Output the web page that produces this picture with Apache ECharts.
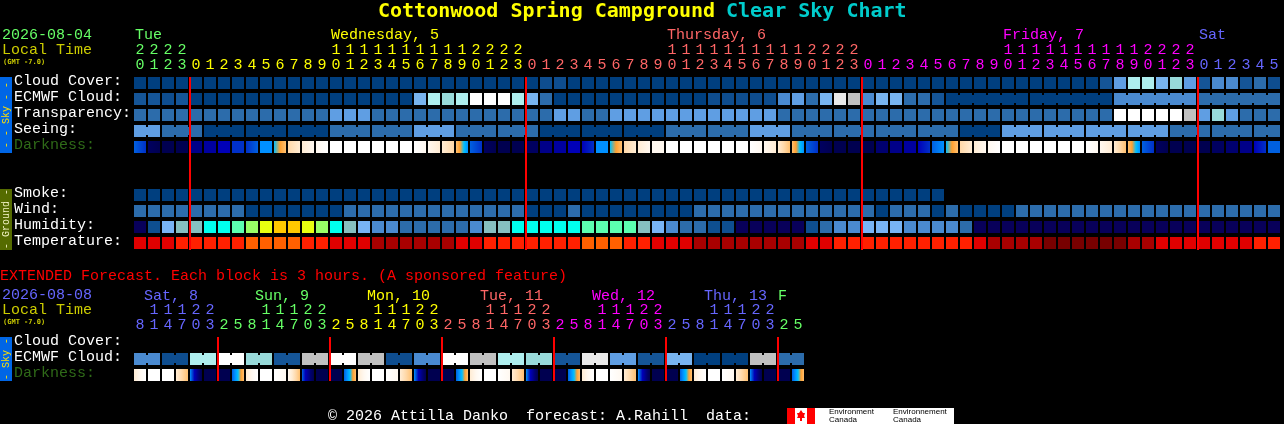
<!DOCTYPE html>
<html><head><meta charset="utf-8">
<style>html,body{margin:0;padding:0;background:#000}#c{width:1284px;height:424px}</style>
<script src="https://cdn.jsdelivr.net/npm/echarts@6/dist/echarts.min.js"></script>
</head><body><div id="c"></div>
<script>
// ---------- data (levels) ----------
const hourOnes = [0,1,2,3,0,1,2,3,4,5,6,7,8,9,0,1,2,3,4,5,6,7,8,9,0,1,2,3,0,1,2,3,4,5,6,7,8,9,0,1,2,3,4,5,6,7,8,9,0,1,2,3,0,1,2,3,4,5,6,7,8,9,0,1,2,3,4,5,6,7,8,9,0,1,2,3,0,1,2,3,4,5];
const hourTens = [2,2,2,2,'','','','','','','','','','',1,1,1,1,1,1,1,1,1,1,2,2,2,2,'','','','','','','','','','',1,1,1,1,1,1,1,1,1,1,2,2,2,2,'','','','','','','','','','',1,1,1,1,1,1,1,1,1,1,2,2,2,2,'','','','','',''];
const hourDay  = [0,0,0,0,1,1,1,1,1,1,1,1,1,1,1,1,1,1,1,1,1,1,1,1,1,1,1,1,2,2,2,2,2,2,2,2,2,2,2,2,2,2,2,2,2,2,2,2,2,2,2,2,3,3,3,3,3,3,3,3,3,3,3,3,3,3,3,3,3,3,3,3,3,3,3,3,4,4,4,4,4,4];
const dayNames = ['Tue','Wednesday, 5','Thursday, 6','Friday, 7','Sat'];
const skyRows = ['Cloud Cover:','ECMWF Cloud:','Transparency:','Seeing:','Darkness:'];
const groundRows = ['Smoke:','Wind:','Humidity:','Temperature:'];
const extRows = ['Cloud Cover:','ECMWF Cloud:','Darkness:'];

const cloudCover = [0,0,0,0,0,0,0,0,0,0, 0,0,0,0,0,0,0,0,0,0, 0,0,0,0,0,0,0,0,0,1, 1,0,0,0,0,0,0,0,0,0, 0,0,0,0,0,0,0,0,0,0, 0,0,0,0,0,0,0,0,0,0, 0,0,0,0,0,0,0,0,0,2, 5,7,7,6,8,5,2,4,4,2, 3,1];
const ecmwfCloud = [2,2,1,2,0,0,0,0,0,0, 0,0,0,0,0,0,0,0,0,0, 6,7,8,7,9,9,9,7,6,3, 0,0,0,0,0,0,0,0,0,0, 0,1,1,1,1,1,4,5,3,6, 10,11,4,6,6,3,3,2,0,0, 0,0,0,0,0,0,0,0,0,0, 4,4,4,4,4,4,3,3,3,3, 3,3];
const ecmwfSpans = [1,1,1,1,1,1,1,1,1,1,1,1,1,1,1,1,1,1,1,1,1,1,1,1,1,1,1,1,1,1,1,1,1,1,1,1,1,1,1,1,1,1,1,1,1,1,1,1,1,1,1,1,1,1,1,1,1,1,6,6,6,6];
const transparency = [3,3,3,3,3,3,3,3,3,3, 3,3,3,3,5,5,5,3,3,3, 3,3,3,3,3,3,3,3,3,3, 5,5,3,3,5,5,5,5,5,5, 5,5,5,5,5,5,3,3,3,3, 3,3,3,3,3,3,3,3,3,3, 3,3,3,3,3,3,3,3,3,3, 9,9,9,9,9,11,5,8,5,3, 3,3];
const seeing = [5,5,3,3,3,0,0,0,0,0, 0,0,0,0,3,3,3,3,3,3, 5,5,5,3,3,3,3,3,3,0, 0,0,0,0,0,0,0,0,3,3, 3,3,3,3,5,5,5,3,3,3, 3,3,3,3,3,3,3,3,3,0, 0,0,5,5,5,5,5,5,5,5, 5,5,5,5,3,3,3,3,3,3, 3,3];
const seeingSpans = [2,3,3,3,3,3,3,3,3,3,3,3,3,3,3,3,3,3,3,3,3,3,3,3,3,3,3,2];
const darkStart = [7,1,0,0,3,4,5,6,6,8, 9,12,13,14,15,15,15,15,15,15, 15,14,13,11,7,1,0,0,1,3, 4,5,5,8,9,12,13,14,15,15, 15,15,15,15,15,14,13,11,7,1, 0,0,0,2,3,4,5,7,9,12, 13,14,15,15,15,15,15,15,15,14, 13,11,7,1,0,0,0,1,2,3, 5,7];
const darkEnd   = [6,0,0,0,3,4,5,6,7,8, 11,13,14,15,15,15,15,15,15,15, 14,13,12,8,6,0,0,0,1,3, 4,5,6,8,11,13,14,14,15,15, 15,15,15,15,14,13,11,8,6,0, 0,0,0,2,3,4,6,8,11,13, 14,15,15,15,15,15,15,15,14,13, 11,8,6,0,0,0,0,1,2,3, 6,7];
const smoke = [0,0,0,0,0,0,0,0,0,0, 0,0,0,0,0,0,0,0,0,0, 0,0,0,0,0,0,0,0,0,0, 0,0,0,0,0,0,0,0,0,0, 0,0,0,0,0,0,0,0,0,0, 0,0,0,0,0,0,0,0];
const wind = [3,3,3,3,3,3,3,3,0,0, 0,0,0,0,0,3,3,3,3,3, 3,3,3,3,3,3,3,3,0,0, 0,3,0,0,0,0,0,0,0,0, 3,3,3,3,3,3,3,3,3,3, 3,3,3,0,3,3,3,0,3,0, 0,0,0,3,3,3,3,3,3,3, 3,3,3,3,3,3,3,3,3,3, 3,3];
const humidity = [0,1,5,6,6,7,7,8,9,10, 11,11,10,9,7,6,5,3,3,2, 2,2,2,2,3,6,6,7,7,7, 7,7,8,8,8,8,6,5,3,2, 2,1,1,0,0,0,0,0,1,2, 3,3,5,5,5,3,3,3,3,2, 0,0,0,0,0,0,0,0,0,0, 0,0,0,0,0,0,0,0,0,0, 0,0];
const temperature = [2,2,2,3,3,3,3,3,4,4, 4,4,3,3,2,2,2,1,1,1, 1,1,1,2,2,3,3,3,3,3, 3,3,4,4,4,3,3,2,2,2, 1,1,1,1,1,1,1,1,2,2, 3,3,3,3,3,3,3,3,3,3, 2,1,1,1,1,0,0,0,0,0, 0,1,1,2,2,2,2,2,2,2, 3,3];

const extOnes = [8,1,4,7,0,3,2,5,8,1,4,7,0,3,2,5,8,1,4,7,0,3,2,5,8,1,4,7,0,3,2,5,8,1,4,7,0,3,2,5,8,1,4,7,0,3,2,5];
const extTens = ['',1,1,1,2,2,'','','',1,1,1,2,2,'','','',1,1,1,2,2,'','','',1,1,1,2,2,'','','',1,1,1,2,2,'','','',1,1,1,2,2,'',''];
const extDay  = [4,4,4,4,4,4,0,0,0,0,0,0,0,0,1,1,1,1,1,1,1,1,2,2,2,2,2,2,2,2,3,3,3,3,3,3,3,3,4,4,4,4,4,4,4,4,0,0];
const extDayNames = ['Sat, 8','Sun, 9','Mon, 10','Tue, 11','Wed, 12','Thu, 13','F'];
const extDayColour = [4,0,1,2,3,4,0];
const extEcmwf = [4,4,1,1,7,7,9,9,8,8,2,2,11,11,9,9,11,11,1,1,4,4,9,9,11,11,7,7,8,8,2,2,10,10,5,5,2,2,6,6,0,0,0,0,11,11,3,3];
const extSpans = [2,2,2,2,2,2,2,2,2,2,2,2,2,2,2,2,2,2,2,2,2,2,2,2];
const extDarkStart = [13,15,15,13,8,0,0,7, 13,15,15,14,7,0,0,7, 13,15,15,13,8,0,0,7, 13,15,15,13,8,0,0,7, 13,15,15,13,8,0,0,7, 13,15,15,13,8,0,0,7];
const extDarkEnd   = [15,15,15,11,0,0,0,11, 15,15,14,11,0,0,0,11, 15,15,14,11,0,0,0,11, 15,15,14,11,0,0,0,11, 15,15,14,11,0,0,0,11, 15,15,14,11,0,0,0,11];

// ---------- colour scales ----------
const cloudScale = ['#003f7f','#0e4d8f','#155597','#2c6cab','#4a8ad0','#5f9ee3','#78b4ef','#aeeeee','#98dada','#ffffff','#e9e9e9','#c0c0c0'];
const humidityScale = ['#08005a','#0e4f90','#2c6cab','#4a8ad0','#5f9ee3','#78b4f5','#86c0c0','#00ffee','#5cffb0','#99ff66','#e8ff10','#ffc800'];
const temperatureScale = ['#780000','#a80000','#e00000','#ff2000','#ff6000'];
const darkScale = ['#000050','#000060','#000070','#000088','#0000a0','#0000b8','#0030c8','#0060e0','#0090ff','#00c0ff','#ffa030','#ffc070','#ffd8a8','#ffecd4','#fff8f0','#ffffff'];
const dayColours = ['#66ff66','#ffff00','#ff6666','#ff00ff','#6666ff'];

// ---------- layout ----------
const MONO = '"Liberation Mono", monospace';
const gridLeft = 133, pitch = 14;

function joinsFrom(spans){ const j=[]; spans.forEach(n=>{ for(let i=0;i<n;i++) j.push(i<n-1?1:0); }); return j; }
function rowCells(values,row,scale,spans){
  const j = spans ? joinsFrom(spans) : [];
  return values.map((v,c)=>[c,row,scale[v],j[c]||0,'']);
}
function darkCells(a,b,row){ return a.map((v,c)=>[c,row,v,0,b[c]]); }
function fillFor(v,e){
  if(e==='') return v;
  if(v===e) return darkScale[v];
  const st=[], n=Math.abs(e-v), d=e>v?1:-1;
  for(let i=0;i<=n;i++) st.push({offset:i/n,color:darkScale[v+d*i]});
  return new echarts.graphic.LinearGradient(0,0,1,0,st);
}
function renderCell(p,api){
  const c=api.coord([api.value(0),api.value(1)]), s=api.size([1,1]);
  const w=s[0]-2,h=s[1]-4, x=c[0]-w/2, y=c[1]-h/2;
  const fill=fillFor(api.value(2),api.value(4));
  const kids=[{type:'rect',shape:{x,y,width:w,height:h},style:{fill}}];
  if(api.value(3)) kids.push({type:'rect',shape:{x:x+w,y:y+2,width:s[0]-w,height:h-4},style:{fill}});
  return {type:'group',children:kids};
}
function renderMidnight(bottom){
  return function(p,api){
    const c=api.coord([api.value(0),0]), s=api.size([1,1]);
    return {type:'rect',shape:{x:c[0]-s[0]/2,y:c[1]-s[1]/2+2,width:2,height:bottom-(c[1]-s[1]/2+2)},style:{fill:'#ff0000'}};
  };
}
function cellSeries(g,data){ return {type:'custom',xAxisIndex:g.x,yAxisIndex:g.y,data,renderItem:renderCell,silent:true,clip:false,z:2,dimensions:[{name:'x',type:'number'},{name:'y',type:'number'},{name:'v',type:'ordinal'},{name:'j',type:'number'},{name:'e',type:'ordinal'}],encode:{x:0,y:1}}; }
function lineSeries(g,cols,bottom){ return {type:'custom',xAxisIndex:g.x,yAxisIndex:g.y,data:cols.map(c=>[c,0]),renderItem:renderMidnight(bottom),silent:true,clip:false,z:5,encode:{x:0,y:1}}; }
function labelAxis(grid,vals,cols,offset){
  return {type:'category',gridIndex:grid,position:'top',offset,boundaryGap:true,
    data:vals.map((v,i)=>({value:String(v),textStyle:{color:dayColours[cols[i]]}})),
    axisLine:{show:false},axisTick:{show:false},splitLine:{show:false},
    axisLabel:{show:true,interval:0,margin:2,fontFamily:MONO,fontSize:15,hideOverlap:false}};
}
function hiddenX(grid,n){ return {type:'category',gridIndex:grid,position:'top',data:Array.from({length:n},(_,i)=>i),show:false}; }
function rowAxis(grid,rows){
  return {type:'category',gridIndex:grid,inverse:true,
    data:rows.map(r=>({value:r,textStyle:{color:r==='Darkness:'?'#2f6a18':'#ffffff',align:'left',verticalAlign:'bottom',padding:[0,0,-6,0]}})),
    axisLine:{show:false},axisTick:{show:false},splitLine:{show:false},
    axisLabel:{show:true,interval:0,align:'left',margin:119,fontFamily:MONO,fontSize:15}};
}
function txt(x,y,text,fill,font,extra){
  return Object.assign({type:'text',x,y,z:10,silent:true,style:{text,fill,font:font||('15px '+MONO),align:'left',verticalAlign:'middle'}},extra||{});
}
const colX = c => gridLeft + c*pitch + 2;
const midnights = hourOnes.map((v,i)=>(i>0&&hourDay[i]!==hourDay[i-1])?i:-1).filter(i=>i>=0);
const extMidnights = extOnes.map((v,i)=>(i>0&&extDay[i]!==extDay[i-1])?i:-1).filter(i=>i>=0);

const dayStartCols = [0,14,38,62,76];
const extDayLeft = [144,255,367,480,592,704,778];

const graphics = [
  txt(378,12,'Cottonwood Spring Campground','#ffff00','bold 20px "DejaVu Sans Mono"'),
  txt(726,12,'Clear Sky Chart','#00cccc','bold 20px "DejaVu Sans Mono"'),
  txt(2,35,'2026-08-04','#66ff66'),
  txt(2,50,'Local Time','#cccc00'),
  txt(3,62,'(GMT -7.0)','#cccc00','bold 7px "DejaVu Sans Mono"'),
  txt(0,276,'EXTENDED Forecast. Each block is 3 hours. (A sponsored feature)','#ff0000'),
  txt(2,295,'2026-08-08','#6666ff'),
  txt(2,310,'Local Time','#cccc00'),
  txt(3,322,'(GMT -7.0)','#cccc00','bold 7px "DejaVu Sans Mono"'),
  {type:'rect',shape:{x:0,y:77,width:12,height:76},style:{fill:'#0066e6'},silent:true,z:1},
  {type:'rect',shape:{x:0,y:189,width:12,height:61},style:{fill:'#556b00'},silent:true,z:1},
  {type:'rect',shape:{x:0,y:337,width:12,height:44},style:{fill:'#0066e6'},silent:true,z:1},
  {type:'text',x:6,y:115,rotation:Math.PI/2,silent:true,z:10,style:{text:'- - Sky - -',fill:'#ffe000',font:'10px '+MONO,align:'center',verticalAlign:'middle'}},
  {type:'text',x:6,y:219,rotation:Math.PI/2,silent:true,z:10,style:{text:'- Ground -',fill:'#f0f0c0',font:'10px '+MONO,align:'center',verticalAlign:'middle'}},
  {type:'text',x:6,y:359,rotation:Math.PI/2,silent:true,z:10,style:{text:'- Sky -',fill:'#ffe000',font:'10px '+MONO,align:'center',verticalAlign:'middle'}},
  txt(328,416,'© 2026 Attilla Danko  forecast: A.Rahill  data:','#ffffff'),
  {type:'rect',shape:{x:787,y:408,width:167,height:16},style:{fill:'#ffffff'},silent:true,z:8},
  {type:'rect',shape:{x:787,y:408,width:8,height:16},style:{fill:'#ff0000'},silent:true,z:9},
  {type:'rect',shape:{x:807,y:408,width:8,height:16},style:{fill:'#ff0000'},silent:true,z:9},
  {type:'polygon',shape:{points:[[801,410],[803,413],[805,413],[804,416],[805,418],[802,418],[802,421],[800,421],[800,418],[797,418],[798,416],[797,413],[799,413]]},style:{fill:'#ff0000'},silent:true,z:9},
  txt(829,412,'Environment','#000000','8px "Liberation Sans"',{z:9}),
  txt(829,420,'Canada','#000000','8px "Liberation Sans"',{z:9}),
  txt(893,412,'Environnement','#000000','8px "Liberation Sans"',{z:9}),
  txt(893,420,'Canada','#000000','8px "Liberation Sans"',{z:9})
];
dayNames.forEach((n,d)=>graphics.push(txt(colX(dayStartCols[d]),35,n,dayColours[d])));
extDayNames.forEach((n,d)=>graphics.push(txt(extDayLeft[d],296,n,dayColours[extDayColour[d]])));

const sky={x:0,y:0}, ground={x:2,y:1}, ext={x:3,y:2};
const option = {
  backgroundColor:'#000',animation:false,tooltip:{show:false},
  grid:[
    {left:gridLeft,top:75,width:82*pitch,height:80,outerBoundsMode:'none',containLabel:false},
    {left:gridLeft,top:187,width:82*pitch,height:64,outerBoundsMode:'none',containLabel:false},
    {left:gridLeft,top:335,width:48*pitch,height:48,outerBoundsMode:'none',containLabel:false}
  ],
  xAxis:[
    labelAxis(0,hourOnes,hourDay,0),
    labelAxis(0,hourTens,hourDay,15),
    hiddenX(1,82),
    labelAxis(2,extOnes,extDay,0),
    labelAxis(2,extTens,extDay,15)
  ],
  yAxis:[rowAxis(0,skyRows),rowAxis(1,groundRows),rowAxis(2,extRows)],
  series:[
    cellSeries(sky,rowCells(cloudCover,0,cloudScale)),
    cellSeries(sky,rowCells(ecmwfCloud,1,cloudScale,ecmwfSpans)),
    cellSeries(sky,rowCells(transparency,2,cloudScale)),
    cellSeries(sky,rowCells(seeing,3,cloudScale,seeingSpans)),
    cellSeries(sky,darkCells(darkStart,darkEnd,4)),
    cellSeries(ground,rowCells(smoke,0,cloudScale)),
    cellSeries(ground,rowCells(wind,1,cloudScale)),
    cellSeries(ground,rowCells(humidity,2,humidityScale)),
    cellSeries(ground,rowCells(temperature,3,temperatureScale)),
    cellSeries(ext,rowCells(extEcmwf,1,cloudScale,extSpans)),
    cellSeries(ext,darkCells(extDarkStart,extDarkEnd,2)),
    lineSeries(sky,midnights,250),
    lineSeries(ext,extMidnights,381)
  ],
  graphic:graphics
};
const chart = echarts.init(document.getElementById('c'),null,{renderer:'canvas'});
chart.setOption(option);
</script></body></html>
